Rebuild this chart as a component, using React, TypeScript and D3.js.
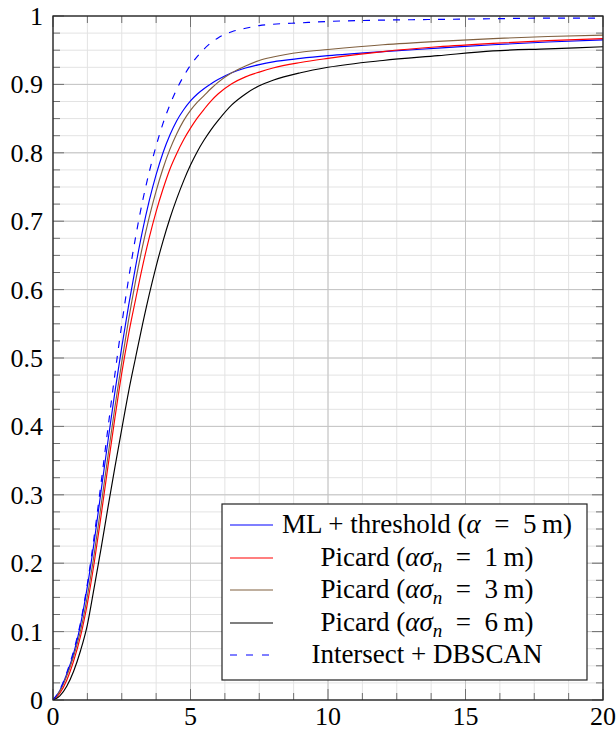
import React from 'react';
import * as d3 from 'd3';

const W = 616;
const H = 730;
const M = { left: 53, right: 603, top: 16, bottom: 700 };

// error (m) sample positions
const xs = [0, 0.25, 0.5, 0.75, 1, 1.25, 1.5, 1.75, 2, 2.25, 2.5, 2.75, 3, 3.25, 3.5, 3.75, 4, 4.25, 4.5, 4.75, 5, 5.25, 5.5, 5.75, 6, 6.5, 7, 7.5, 8, 9, 10, 12, 14, 16, 18, 20];

const mlThreshold = [0, 0.014, 0.038, 0.068, 0.11, 0.166, 0.232, 0.306, 0.379, 0.45, 0.516, 0.577, 0.633, 0.685, 0.73, 0.768, 0.8, 0.826, 0.847, 0.863, 0.876, 0.886, 0.894, 0.901, 0.907, 0.917, 0.924, 0.929, 0.933, 0.938, 0.942, 0.948, 0.953, 0.958, 0.962, 0.965];
const picard1 = [0, 0.01, 0.029, 0.057, 0.093, 0.141, 0.201, 0.27, 0.342, 0.412, 0.478, 0.535, 0.585, 0.633, 0.676, 0.714, 0.747, 0.776, 0.799, 0.819, 0.836, 0.851, 0.864, 0.876, 0.886, 0.901, 0.911, 0.918, 0.924, 0.932, 0.938, 0.948, 0.955, 0.96, 0.964, 0.967];
const picard3 = [0, 0.013, 0.035, 0.064, 0.101, 0.152, 0.214, 0.285, 0.357, 0.428, 0.494, 0.556, 0.612, 0.662, 0.706, 0.744, 0.777, 0.805, 0.828, 0.847, 0.862, 0.874, 0.884, 0.894, 0.903, 0.917, 0.927, 0.935, 0.94, 0.947, 0.951, 0.958, 0.963, 0.967, 0.97, 0.972];
const picard6 = [0, 0.006, 0.02, 0.042, 0.072, 0.11, 0.165, 0.222, 0.282, 0.34, 0.396, 0.451, 0.5, 0.548, 0.593, 0.634, 0.671, 0.704, 0.733, 0.759, 0.782, 0.802, 0.819, 0.834, 0.847, 0.87, 0.886, 0.898, 0.906, 0.917, 0.925, 0.935, 0.942, 0.949, 0.952, 0.955];
const dbscan = [0, 0.015, 0.04, 0.072, 0.113, 0.17, 0.24, 0.318, 0.398, 0.476, 0.549, 0.616, 0.676, 0.728, 0.772, 0.81, 0.843, 0.87, 0.893, 0.912, 0.928, 0.941, 0.952, 0.961, 0.968, 0.977, 0.982, 0.986, 0.988, 0.99, 0.992, 0.994, 0.995, 0.996, 0.997, 0.997];

const seriesNames = [
  'ML + threshold (α = 5\u2009m)',
  'Picard (ασ_n = 1\u2009m)',
  'Picard (ασ_n = 3\u2009m)',
  'Picard (ασ_n = 6\u2009m)',
  'Intersect + DBSCAN',
];
const seriesValues = [mlThreshold, picard1, picard3, picard6, dbscan];
const seriesColors = ['#0000ff', '#ff0000', '#80603f', '#000000', '#0000ff'];
const seriesDashed = [false, false, false, false, true];

const xTickValues = [0, 5, 10, 15, 20];
const xTickLabels = ['0', '5', '10', '15', '20'];
const yTickValues = [0, 0.1, 0.2, 0.3, 0.4, 0.5, 0.6, 0.7, 0.8, 0.9, 1];
const yTickLabels = ['0', '0.1', '0.2', '0.3', '0.4', '0.5', '0.6', '0.7', '0.8', '0.9', '1'];

const FONT = "'Liberation Serif', 'DejaVu Serif', serif";

function renderLabel(label: string) {
  const parts = label.split(/(α|σ|_n)/).filter((p) => p.length > 0);
  const out: React.ReactNode[] = [];
  let pendingUp = false;
  parts.forEach((p, i) => {
    if (p === '_n') {
      out.push(
        <tspan key={i} fontStyle="italic" fontSize={19} dy={6}>
          n
        </tspan>
      );
      pendingUp = true;
    } else if (p === 'α' || p === 'σ') {
      out.push(
        <tspan key={i} fontStyle="italic" dy={pendingUp ? -6 : 0}>
          {p}
        </tspan>
      );
      pendingUp = false;
    } else {
      const txt = p.replace(' = ', '\u2002=\u2002');
      out.push(
        <tspan key={i} dy={pendingUp ? -6 : 0}>
          {txt}
        </tspan>
      );
      pendingUp = false;
    }
  });
  return out;
}

export default function App() {
  const x = d3.scaleLinear().domain([0, 20]).range([M.left, M.right]);
  const y = d3.scaleLinear().domain([0, 1]).range([M.bottom, M.top]);

  const xMinor = d3.range(0, 20.0001, 1.25);
  const yMinor = d3.range(0, 1.0001, 0.025);

  const lineGen = d3
    .line<number>()
    .x((_, i) => x(xs[i]))
    .y((d) => y(d))
    .curve(d3.curveMonotoneX);

  const majorLen = 11;
  const minorLen = 7;
  const tickColor = '#707070';

  const legend = { x0: 222, x1: 587, y0: 504, y1: 680, sw0: 230, sw1: 273, tx: 427, base0: 533, step: 32.5 };
  const textStyle = { fontFamily: FONT };

  return (
    <svg
      width={W}
      height={H}
      fontFamily={FONT}
      style={{ position: 'absolute', left: 0, top: 0, background: '#fff', fontFamily: FONT }}
    >
      <defs>
        <clipPath id="plotclip">
          <rect x={M.left} y={M.top} width={M.right - M.left} height={M.bottom - M.top} />
        </clipPath>
      </defs>
      <rect x={0} y={0} width={W} height={H} fill="#fff" />

      {/* minor grid */}
      <g stroke="#e3e3e3" strokeWidth={1}>
        {xMinor.map((v) => (
          <line key={'xm' + v} x1={x(v)} x2={x(v)} y1={M.top} y2={M.bottom} />
        ))}
        {yMinor.map((v) => (
          <line key={'ym' + v} x1={M.left} x2={M.right} y1={y(v)} y2={y(v)} />
        ))}
      </g>
      {/* major grid */}
      <g stroke="#c4c4c4" strokeWidth={1}>
        {xTickValues.map((v) => (
          <line key={'xg' + v} x1={x(v)} x2={x(v)} y1={M.top} y2={M.bottom} />
        ))}
        {yTickValues.map((v) => (
          <line key={'yg' + v} x1={M.left} x2={M.right} y1={y(v)} y2={y(v)} />
        ))}
      </g>

      {/* ticks */}
      <g stroke={tickColor} strokeWidth={1}>
        {xMinor.map((v) => {
          const L = xTickValues.includes(v) ? majorLen : minorLen;
          return (
            <g key={'xt' + v}>
              <line x1={x(v)} x2={x(v)} y1={M.bottom} y2={M.bottom - L} />
              <line x1={x(v)} x2={x(v)} y1={M.top} y2={M.top + L} />
            </g>
          );
        })}
        {yMinor.map((v, i) => {
          const L = i % 4 === 0 ? majorLen : minorLen;
          return (
            <g key={'yt' + v}>
              <line x1={M.left} x2={M.left + L} y1={y(v)} y2={y(v)} />
              <line x1={M.right} x2={M.right - L} y1={y(v)} y2={y(v)} />
            </g>
          );
        })}
      </g>

      {/* curves */}
      <g clipPath="url(#plotclip)" fill="none">
        {seriesValues.map((vals, i) => (
          <path
            key={'s' + i}
            d={lineGen(vals) || ''}
            stroke={seriesColors[i]}
            strokeWidth={1.15}
            strokeDasharray={seriesDashed[i] ? '7 8' : undefined}
          />
        ))}
      </g>

      {/* frame */}
      <rect
        x={M.left}
        y={M.top}
        width={M.right - M.left}
        height={M.bottom - M.top}
        fill="none"
        stroke="#222"
        strokeWidth={1.3}
      />

      {/* tick labels */}
      {yTickValues.map((v, i) => (
        <text
          key={'yl' + v}
          x={M.left - 10}
          y={y(v) + 9}
          textAnchor="end"
          fontSize={26}
          fill="#000"
          fontFamily={FONT}
          style={textStyle}
        >
          {yTickLabels[i]}
        </text>
      ))}
      {xTickValues.map((v, i) => (
        <text
          key={'xl' + v}
          x={x(v)}
          y={725}
          textAnchor="middle"
          fontSize={26}
          fill="#000"
          fontFamily={FONT}
          style={textStyle}
        >
          {xTickLabels[i]}
        </text>
      ))}

      {/* legend */}
      <g>
        <rect
          x={legend.x0}
          y={legend.y0}
          width={legend.x1 - legend.x0}
          height={legend.y1 - legend.y0}
          fill="#fff"
          stroke="#222"
          strokeWidth={1.2}
        />
        {seriesNames.map((name, i) => {
          const base = legend.base0 + i * legend.step;
          const sy = Math.round(base - 8);
          return (
            <g key={'lg' + i}>
              <line
                x1={legend.sw0}
                x2={legend.sw1}
                y1={sy}
                y2={sy}
                stroke={seriesColors[i]}
                strokeWidth={1.2}
                strokeDasharray={seriesDashed[i] ? '7 9' : undefined}
              />
              <text x={legend.tx} y={base} textAnchor="middle" fontSize={27} fill="#000" style={textStyle}>
                {renderLabel(name)}
              </text>
            </g>
          );
        })}
      </g>
    </svg>
  );
}
